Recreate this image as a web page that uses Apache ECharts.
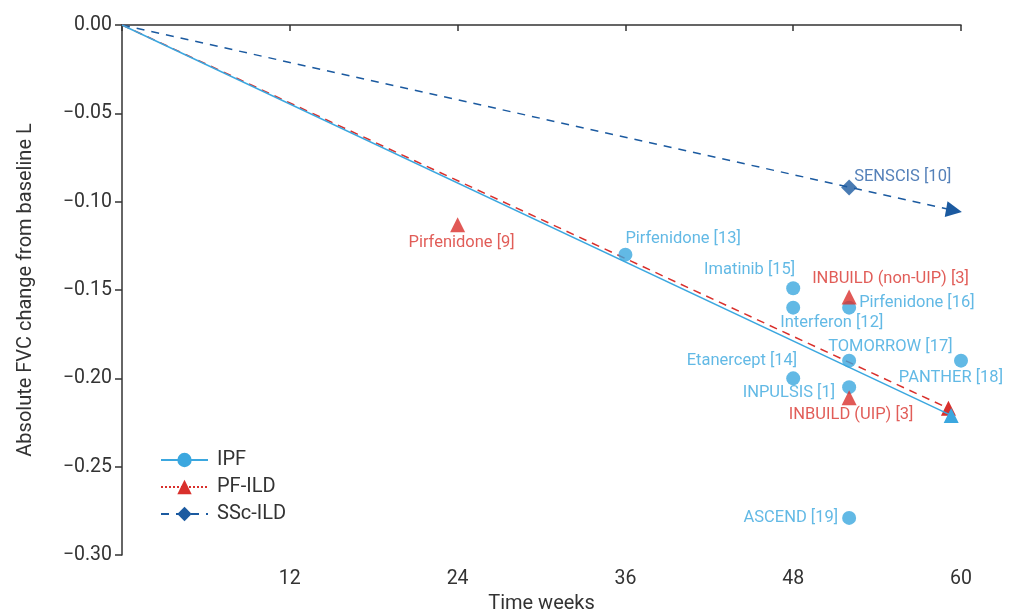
<!DOCTYPE html>
<html>
<head>
<meta charset="utf-8">
<script src="https://cdn.jsdelivr.net/npm/echarts@6/dist/echarts.min.js"></script>
<style>
html,body{margin:0;padding:0;background:#fff;}
#chart{width:1017px;height:613px;}
</style>
</head>
<body>
<div id="chart"></div>
<script>
// ---- data ----
const xTicks = [0, 12, 24, 36, 48, 60];
const yTicks = [0, -0.05, -0.10, -0.15, -0.20, -0.25, -0.30];

const ipfTrialNames = ['Pirfenidone [13]', 'Imatinib [15]', 'Interferon [12]', 'Pirfenidone [16]', 'TOMORROW [17]', 'PANTHER [18]', 'Etanercept [14]', 'INPULSIS [1]', 'ASCEND [19]'];
const ipfTrialWeeks = [36, 48, 48, 52, 52, 60, 48, 52, 52];
const ipfTrialFvc   = [-0.13, -0.149, -0.16, -0.16, -0.19, -0.19, -0.20, -0.205, -0.279];

const pfildTrialNames = ['Pirfenidone [9]', 'INBUILD (non-UIP) [3]', 'INBUILD (UIP) [3]'];
const pfildTrialWeeks = [24, 52, 52];
const pfildTrialFvc   = [-0.113, -0.154, -0.211];

const sscTrialNames = ['SENSCIS [10]'];
const sscTrialWeeks = [52];
const sscTrialFvc   = [-0.092];

const ipfLineWeeks = [0, 59.3];
const ipfLineFvc   = [0, -0.221];
const pfildLineWeeks = [0, 59.1];
const pfildLineFvc   = [0, -0.217];
const sscLineWeeks = [0, 59.5];
const sscLineFvc   = [0, -0.105];

// ---- styles ----
const C_IPF = '#3ba7df';
const C_PF = '#d9302c';
const C_PF_TXT = '#d9342e';
const C_SSC = '#1b5aa0';
const C_SSC_TXT = '#2b62a8';
const FONT = 'Roboto';

const labelLayout = {
  'Pirfenidone [13]': {align:'left', offset:[0,-16]},
  'Imatinib [15]': {align:'right', offset:[2,-18]},
  'Interferon [12]': {align:'left', offset:[-13,15]},
  'Pirfenidone [16]': {align:'left', offset:[10,-5]},
  'TOMORROW [17]': {align:'left', offset:[-21,-14]},
  'PANTHER [18]': {align:'right', offset:[42,17]},
  'Etanercept [14]': {align:'right', offset:[4,-17]},
  'INPULSIS [1]': {align:'right', offset:[-14,6]},
  'ASCEND [19]': {align:'right', offset:[-11,0]},
  'Pirfenidone [9]': {align:'center', offset:[4,18]},
  'INBUILD (non-UIP) [3]': {align:'left', offset:[-37,-18]},
  'INBUILD (UIP) [3]': {align:'center', offset:[2,17]},
  'SENSCIS [10]': {align:'left', offset:[5,-11]}
};

function trialData(names, xs, ys, color) {
  return names.map((n, i) => ({
    name: n,
    value: [xs[i], ys[i]],
    label: {
      show: true, position: 'inside', formatter: n,
      align: labelLayout[n].align, verticalAlign: 'middle',
      offset: labelLayout[n].offset,
      color: color, fontFamily: FONT, fontSize: 16.5
    }
  }));
}

function lineData(xs, ys, endSym) {
  return xs.map((x, i) => i === 0 ? {value:[x, ys[i]], symbol:'none'} :
    Object.assign({value:[x, ys[i]]}, endSym));
}

const fmt = v => (v === 0 ? '0.00' : ('\u2212' + Math.abs(v).toFixed(2)));

const chart = echarts.init(document.getElementById('chart'));
chart.setOption({
  animation: false,
  grid: {left: 122, right: 56, top: 25, bottom: 58, containLabel: false, outerBoundsMode: 'none'},
  legend: {
    left: 155, top: 445, orient: 'vertical',
    itemWidth: 47, itemHeight: 18, itemGap: 7,
    textStyle: {fontFamily: FONT, fontSize: 20, color: '#333', padding: [0, 0, 0, 4]},
    data: [
      {name: 'IPF'},
      {name: 'PF-ILD', lineStyle: {type: 'dotted'}},
      {name: 'SSc-ILD'}
    ]
  },
  xAxis: {
    type: 'value', min: 0, max: 60, interval: 12,
    name: 'Time weeks', nameLocation: 'middle', nameGap: 36,
    nameTextStyle: {fontFamily: FONT, fontSize: 20, color: '#333'},
    axisLine: {lineStyle: {color: '#333', width: 1.5}},
    axisTick: {show: true, length: 6, lineStyle: {color: '#333', width: 1.5}},
    axisLabel: {fontFamily: FONT, fontSize: 19.5, color: '#333', margin: 14,
      formatter: v => (v === 0 ? '' : String(v))},
    splitLine: {show: false}
  },
  yAxis: {
    type: 'value', min: -0.30, max: 0, interval: 0.05,
    name: 'Absolute FVC change from baseline L', nameLocation: 'middle', nameGap: 86,
    nameTextStyle: {fontFamily: FONT, fontSize: 20, color: '#333'},
    axisLine: {show: true, lineStyle: {color: '#333', width: 1.5}},
    axisTick: {show: true, length: 7, lineStyle: {color: '#333', width: 1.5}},
    axisLabel: {fontFamily: FONT, fontSize: 19.5, color: '#333', margin: 10, formatter: fmt},
    splitLine: {show: false}
  },
  series: [
    {
      name: 'SSc-ILD', type: 'line', symbol: 'diamond', symbolSize: 16,
      itemStyle: {color: C_SSC},
      lineStyle: {color: C_SSC, width: 1.5, type: [8, 7]},
      data: lineData(sscLineWeeks, sscLineFvc, {symbol: 'triangle', symbolSize: 16, symbolRotate: -100}),
      z: 2
    },
    {
      name: 'PF-ILD', type: 'line', symbol: 'triangle', symbolSize: 16,
      itemStyle: {color: C_PF},
      lineStyle: {color: C_PF, width: 1.5, type: [8, 6]},
      data: lineData(pfildLineWeeks, pfildLineFvc, {symbol: 'triangle', symbolSize: 15}),
      z: 3
    },
    {
      name: 'IPF', type: 'line', symbol: 'circle', symbolSize: 14,
      itemStyle: {color: C_IPF},
      lineStyle: {color: C_IPF, width: 1.5, type: 'solid'},
      data: lineData(ipfLineWeeks, ipfLineFvc, {symbol: 'triangle', symbolSize: 15}),
      z: 4
    },
    {
      name: 'IPF trials', type: 'scatter', symbol: 'circle', symbolSize: 14,
      itemStyle: {color: C_IPF},
      data: trialData(ipfTrialNames, ipfTrialWeeks, ipfTrialFvc, C_IPF),
      z: 5
    },
    {
      name: 'PF-ILD trials', type: 'scatter', symbol: 'triangle', symbolSize: 15,
      itemStyle: {color: C_PF},
      data: trialData(pfildTrialNames, pfildTrialWeeks, pfildTrialFvc, C_PF_TXT),
      z: 6
    },
    {
      name: 'SSc-ILD trials', type: 'scatter', symbol: 'diamond', symbolSize: 16,
      itemStyle: {color: C_SSC},
      data: trialData(sscTrialNames, sscTrialWeeks, sscTrialFvc, C_SSC_TXT),
      z: 6
    }
  ]
});
</script>
</body>
</html>
